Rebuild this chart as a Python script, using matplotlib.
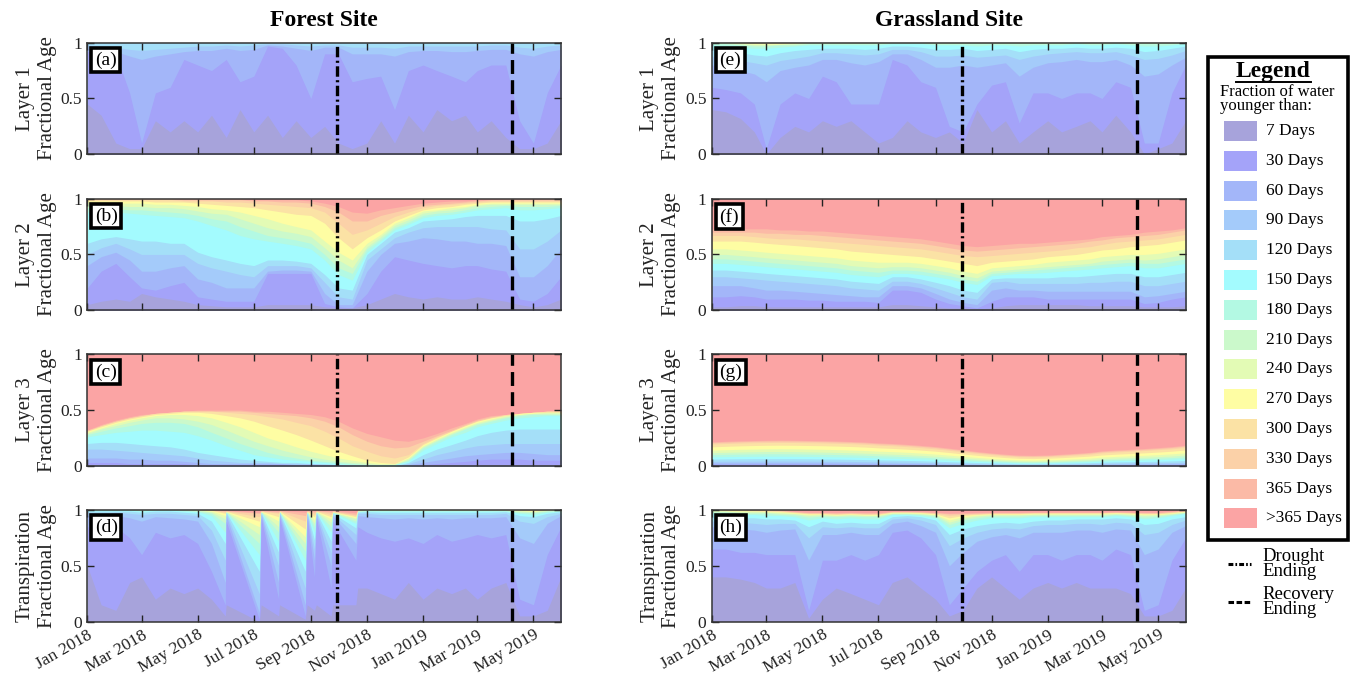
import numpy as np
import pandas as pd
import matplotlib
matplotlib.use("Agg")
import matplotlib.pyplot as plt
from matplotlib.patches import Rectangle
from matplotlib.lines import Line2D

plt.rcParams['font.family'] = ['Liberation Serif', 'DejaVu Serif']
plt.rcParams['lines.scale_dashes'] = False

# ---------------- DATA ----------------
age_labels = ['7 Days', '30 Days', '60 Days', '90 Days', '120 Days', '150 Days', '180 Days',
              '210 Days', '240 Days', '270 Days', '300 Days', '330 Days', '365 Days', '>365 Days']
age_colors = ['#a7a3db', '#a4a3f9', '#a3b6f9', '#a4cbfa', '#a4dff8', '#a3fbfe', '#b3f9e3',
              '#cbf9cb', '#e3fbb5', '#fefda3', '#fbe2a5', '#fbd1a8', '#fbbaa6', '#fba4a4']

dates_semi = ['2018-01-01', '2018-01-16', '2018-02-01', '2018-02-16', '2018-03-01', '2018-03-16',
              '2018-04-01', '2018-04-16', '2018-05-01', '2018-05-16', '2018-06-01', '2018-06-16',
              '2018-07-01', '2018-07-16', '2018-08-01', '2018-08-16', '2018-09-01', '2018-09-16',
              '2018-10-01', '2018-10-16', '2018-11-01', '2018-11-16', '2018-12-01', '2018-12-16',
              '2019-01-01', '2019-01-16', '2019-02-01', '2019-02-16', '2019-03-01', '2019-03-16',
              '2019-04-01', '2019-04-16', '2019-05-01', '2019-05-16', '2019-05-31']

dates_forest_tr = ['2018-01-01', '2018-01-16', '2018-02-01', '2018-02-16', '2018-03-01', '2018-03-16',
                   '2018-04-01', '2018-04-16', '2018-05-01', '2018-05-16', '2018-05-31', '2018-06-01',
                   '2018-07-07', '2018-07-09', '2018-07-28', '2018-07-29', '2018-08-26', '2018-08-28',
                   '2018-09-05', '2018-09-07', '2018-09-23', '2018-09-25', '2018-10-20', '2018-10-22',
                   '2018-11-01', '2018-11-16', '2018-12-01', '2018-12-16', '2019-01-01', '2019-01-16',
                   '2019-02-01', '2019-02-16', '2019-03-01', '2019-03-16', '2019-04-01', '2019-04-16',
                   '2019-05-01', '2019-05-16', '2019-05-31']

# cumulative fraction younger than 7,30,60,...,365 days (one row per threshold)
forest_layer1 = [
    [.45,.35,.10,.05,.05,.30,.20,.30,.20,.35,.15,.40,.20,.35,.15,.30,.15,.25,.10,.05,.10,.30,.10,.35,.20,.40,.30,.35,.20,.30,.15,.05,.05,.10,.30],
    [.92,.92,.90,.55,.10,.55,.60,.85,.80,.75,.85,.65,.70,.97,.95,.80,.50,.90,.90,.65,.68,.70,.40,.75,.80,.75,.70,.65,.75,.80,.80,.30,.10,.55,.80],
    [.95,.93,.92,.88,.85,.88,.90,.92,.93,.93,.95,.93,.94,.98,.97,.95,.93,.96,.96,.90,.90,.90,.88,.92,.93,.93,.92,.92,.93,.94,.94,.90,.88,.92,.94],
    [.98,.97,.96,.94,.93,.94,.95,.96,.97,.97,.98,.97,.98,.99,.99,.98,.97,.98,.98,.96,.96,.96,.95,.97,.97,.97,.97,.97,.97,.98,.98,.96,.95,.97,.98],
    [1,1,1,1,1,1,1,1,1,1,1,1,1,1,1,1,1,1,1,1,1,1,1,1,1,1,1,1,1,1,1,1,1,1,1],
    [1,1,1,1,1,1,1,1,1,1,1,1,1,1,1,1,1,1,1,1,1,1,1,1,1,1,1,1,1,1,1,1,1,1,1],
    [1,1,1,1,1,1,1,1,1,1,1,1,1,1,1,1,1,1,1,1,1,1,1,1,1,1,1,1,1,1,1,1,1,1,1],
    [1,1,1,1,1,1,1,1,1,1,1,1,1,1,1,1,1,1,1,1,1,1,1,1,1,1,1,1,1,1,1,1,1,1,1],
    [1,1,1,1,1,1,1,1,1,1,1,1,1,1,1,1,1,1,1,1,1,1,1,1,1,1,1,1,1,1,1,1,1,1,1],
    [1,1,1,1,1,1,1,1,1,1,1,1,1,1,1,1,1,1,1,1,1,1,1,1,1,1,1,1,1,1,1,1,1,1,1],
    [1,1,1,1,1,1,1,1,1,1,1,1,1,1,1,1,1,1,1,1,1,1,1,1,1,1,1,1,1,1,1,1,1,1,1],
    [1,1,1,1,1,1,1,1,1,1,1,1,1,1,1,1,1,1,1,1,1,1,1,1,1,1,1,1,1,1,1,1,1,1,1],
    [1,1,1,1,1,1,1,1,1,1,1,1,1,1,1,1,1,1,1,1,1,1,1,1,1,1,1,1,1,1,1,1,1,1,1],
]

forest_layer2 = [
    [.05,.08,.10,.08,.15,.12,.10,.08,.05,.04,.03,.03,.03,.05,.05,.05,.05,.03,.02,.02,.05,.10,.15,.12,.10,.12,.10,.10,.12,.10,.08,.05,.03,.05,.10],
    [.20,.35,.42,.30,.20,.18,.22,.25,.12,.10,.08,.08,.08,.33,.33,.33,.33,.06,.03,.02,.15,.35,.48,.45,.42,.40,.38,.40,.40,.37,.35,.10,.08,.15,.30],
    [.40,.48,.52,.45,.35,.35,.38,.40,.28,.25,.20,.20,.20,.35,.36,.36,.35,.15,.05,.05,.35,.50,.60,.62,.65,.64,.62,.62,.60,.60,.58,.30,.30,.40,.55],
    [.50,.56,.60,.55,.50,.50,.50,.50,.42,.38,.35,.32,.30,.40,.40,.40,.38,.25,.12,.10,.45,.55,.65,.70,.74,.75,.75,.75,.75,.73,.72,.55,.55,.62,.72],
    [.60,.64,.66,.64,.62,.62,.60,.60,.52,.48,.45,.42,.40,.45,.45,.44,.42,.32,.20,.18,.50,.60,.70,.74,.80,.81,.82,.84,.85,.85,.85,.80,.80,.82,.85],
    [.88,.88,.88,.87,.86,.85,.84,.83,.80,.76,.72,.67,.64,.62,.60,.58,.55,.45,.32,.27,.52,.62,.72,.77,.83,.85,.86,.88,.90,.91,.92,.90,.90,.91,.92],
    [.92,.92,.91,.90,.90,.89,.88,.87,.85,.82,.80,.75,.71,.67,.65,.63,.60,.50,.38,.33,.55,.64,.74,.79,.85,.87,.88,.90,.92,.93,.94,.93,.93,.93,.94],
    [.95,.94,.94,.93,.93,.92,.92,.91,.89,.87,.86,.82,.78,.74,.71,.69,.66,.56,.45,.38,.57,.66,.76,.81,.87,.89,.90,.92,.94,.95,.95,.95,.95,.95,.95],
    [.97,.96,.96,.96,.96,.95,.95,.94,.93,.91,.90,.88,.85,.82,.78,.75,.72,.62,.52,.45,.60,.68,.78,.83,.89,.90,.92,.93,.95,.96,.96,.96,.96,.96,.96],
    [.98,.98,.98,.98,.98,.97,.97,.97,.96,.95,.94,.93,.92,.90,.88,.86,.85,.78,.65,.55,.65,.72,.80,.85,.90,.92,.93,.95,.96,.97,.97,.97,.97,.97,.97],
    [.99,.99,.99,.99,.99,.99,.99,.98,.98,.98,.97,.97,.96,.95,.94,.93,.92,.88,.78,.68,.72,.78,.84,.88,.92,.94,.95,.96,.97,.98,.98,.98,.98,.98,.98],
    [1,1,1,1,1,1,1,.99,.99,.99,.99,.99,.98,.98,.97,.97,.96,.93,.88,.80,.80,.85,.88,.91,.94,.95,.96,.97,.98,.99,.99,.99,.99,.99,.99],
    [1,1,1,1,1,1,1,1,1,1,1,1,.99,.99,.99,.99,.98,.96,.93,.88,.87,.90,.92,.94,.96,.97,.98,.98,.99,.99,1,1,1,1,1],
]

forest_layer3 = [
    [.01,.01,.01,.01,.01,.01,.01,.01,.01,0,0,0,0,0,0,0,0,0,0,0,0,0,0,0,.005,.01,.01,.01,.01,.01,.01,.01,.01,.01,.01],
    [.03,.03,.03,.02,.02,.02,.02,.02,.01,.01,.01,.01,.01,.01,.01,.01,.01,.01,.01,0,0,0,0,0,.01,.02,.03,.04,.05,.06,.06,.06,.05,.05,.05],
    [.07,.07,.07,.06,.06,.05,.05,.04,.03,.02,.02,.02,.02,.02,.02,.01,.01,.01,.01,0,0,0,0,.01,.03,.05,.07,.09,.10,.11,.12,.12,.11,.10,.10],
    [.15,.15,.14,.13,.12,.11,.10,.09,.07,.05,.04,.03,.03,.03,.02,.02,.02,.01,.01,.01,0,0,0,.02,.06,.10,.13,.16,.18,.19,.20,.20,.20,.20,.20],
    [.20,.21,.21,.20,.19,.18,.17,.15,.12,.10,.08,.06,.05,.04,.03,.03,.02,.02,.01,.01,.01,0,0,.03,.10,.15,.19,.23,.27,.30,.32,.33,.33,.33,.33],
    [.26,.28,.30,.31,.32,.32,.31,.30,.27,.23,.18,.14,.10,.08,.06,.05,.04,.03,.02,.01,.01,.01,.01,.04,.14,.20,.26,.30,.35,.38,.41,.43,.44,.45,.45],
    [.28,.31,.34,.36,.38,.39,.39,.38,.35,.30,.25,.20,.16,.12,.09,.07,.05,.04,.03,.02,.01,.01,.01,.05,.16,.22,.28,.33,.37,.40,.43,.45,.46,.46,.46],
    [.29,.33,.36,.39,.41,.43,.43,.42,.40,.37,.32,.27,.22,.18,.14,.11,.08,.06,.04,.03,.02,.01,.01,.06,.17,.23,.29,.34,.38,.41,.44,.46,.47,.47,.47],
    [.30,.34,.38,.41,.43,.45,.46,.46,.45,.43,.39,.35,.30,.25,.21,.17,.13,.10,.07,.05,.03,.02,.02,.07,.18,.24,.30,.35,.39,.42,.45,.46,.47,.48,.48],
    [.31,.35,.39,.42,.44,.46,.47,.48,.48,.47,.45,.43,.40,.36,.32,.28,.23,.18,.13,.09,.05,.03,.02,.08,.19,.25,.31,.36,.40,.43,.45,.47,.48,.48,.48],
    [.31,.36,.40,.43,.45,.47,.48,.49,.49,.49,.48,.47,.46,.44,.42,.39,.36,.31,.25,.18,.13,.09,.07,.10,.20,.26,.31,.36,.40,.43,.46,.47,.48,.49,.49],
    [.32,.36,.40,.43,.45,.47,.48,.49,.49,.49,.49,.49,.48,.47,.46,.45,.43,.40,.35,.28,.22,.18,.16,.17,.22,.27,.32,.37,.41,.44,.46,.47,.48,.49,.49],
    [.32,.37,.41,.44,.46,.47,.48,.49,.50,.50,.50,.50,.49,.49,.48,.47,.46,.44,.40,.34,.29,.26,.23,.22,.25,.29,.34,.38,.42,.45,.46,.47,.48,.49,.50],
]

forest_transp = [
    [.50,.15,.10,.35,.40,.20,.30,.25,.30,.20,.05,.15,.00,.15,.05,.15,.02,.15,.10,.15,.05,.15,.15,.30,.30,.25,.20,.35,.20,.30,.25,.30,.20,.30,.35,.05,.05,.10,.40],
    [.85,.82,.85,.75,.60,.80,.75,.78,.70,.45,.15,.90,.02,.93,.20,.93,.05,.93,.40,.93,.30,.90,.55,.85,.80,.75,.72,.75,.70,.78,.72,.75,.78,.75,.78,.20,.15,.60,.85],
    [.95,.94,.95,.93,.90,.94,.93,.92,.90,.70,.35,.95,.08,.96,.35,.96,.15,.96,.55,.96,.50,.95,.70,.95,.94,.93,.92,.93,.92,.93,.92,.93,.93,.93,.94,.75,.70,.88,.95],
    [.98,.97,.98,.97,.96,.97,.97,.96,.95,.82,.55,.97,.25,.97,.50,.97,.30,.97,.65,.97,.62,.96,.78,.97,.97,.96,.96,.96,.96,.96,.96,.96,.96,.96,.97,.90,.88,.94,.97],
    [.99,.99,.99,.99,.98,.99,.99,.98,.97,.90,.70,.98,.45,.98,.62,.98,.45,.98,.73,.98,.72,.97,.84,.98,.985,.98,.98,.98,.98,.98,.98,.98,.98,.98,.985,.95,.94,.97,.985],
    [1,1,1,1,.99,1,1,.99,.985,.95,.80,.98,.60,.98,.72,.98,.55,.98,.80,.98,.80,.975,.88,.985,.99,.99,.99,.99,.99,.99,.99,.99,.99,.99,.99,.97,.96,.98,.99],
    [1,1,1,1,1,1,1,1,.99,.97,.88,.982,.70,.982,.80,.982,.63,.982,.85,.982,.85,.978,.90,.99,.995,.995,.995,.995,.995,.995,.995,.995,.995,.995,.995,.98,.975,.99,.995],
    [1,1,1,1,1,1,1,1,1,.98,.92,.984,.78,.984,.85,.984,.70,.984,.88,.984,.89,.98,.92,.99,1,1,1,1,1,1,1,1,1,1,1,.99,.985,.995,1],
    [1,1,1,1,1,1,1,1,1,.99,.95,.986,.85,.986,.90,.986,.76,.986,.91,.986,.92,.982,.93,.995,1,1,1,1,1,1,1,1,1,1,1,.995,.99,1,1],
    [1,1,1,1,1,1,1,1,1,.995,.97,.988,.90,.988,.94,.988,.83,.988,.94,.988,.94,.984,.94,.995,1,1,1,1,1,1,1,1,1,1,1,1,.995,1,1],
    [1,1,1,1,1,1,1,1,1,1,.98,.99,.94,.99,.97,.99,.90,.99,.96,.99,.96,.987,.95,1,1,1,1,1,1,1,1,1,1,1,1,1,1,1,1],
    [1,1,1,1,1,1,1,1,1,1,.99,.992,.97,.992,.98,.992,.95,.992,.98,.992,.98,.99,.96,1,1,1,1,1,1,1,1,1,1,1,1,1,1,1,1],
    [1,1,1,1,1,1,1,1,1,1,.995,.995,.98,.995,.99,.995,.98,.995,.99,.995,.99,.995,.975,1,1,1,1,1,1,1,1,1,1,1,1,1,1,1,1],
]

grass_layer1 = [
    [.40,.38,.32,.20,.00,.15,.25,.20,.30,.25,.30,.20,.10,.15,.30,.20,.15,.20,.10,.40,.20,.30,.10,.20,.30,.20,.25,.30,.20,.35,.20,.00,.05,.10,.30],
    [.60,.58,.55,.45,.05,.45,.55,.50,.70,.65,.45,.45,.45,.85,.80,.65,.60,.25,.20,.45,.62,.65,.28,.55,.55,.50,.55,.55,.50,.65,.60,.10,.10,.55,.80],
    [.80,.78,.75,.72,.65,.75,.78,.80,.85,.85,.82,.80,.83,.90,.90,.85,.78,.78,.80,.78,.80,.82,.70,.78,.82,.83,.85,.83,.83,.85,.80,.70,.72,.80,.87],
    [.88,.86,.84,.82,.80,.84,.86,.88,.91,.91,.90,.89,.90,.94,.94,.92,.88,.88,.89,.87,.88,.89,.85,.88,.90,.91,.92,.91,.91,.92,.89,.85,.86,.89,.93],
    [.94,.93,.91,.89,.88,.91,.93,.94,.95,.95,.95,.94,.95,.97,.97,.96,.94,.94,.95,.93,.94,.95,.92,.94,.95,.95,.96,.95,.95,.96,.95,.92,.93,.95,.97],
    [.98,.97,.96,.95,.95,.96,.97,.98,.98,.98,.98,.98,.98,.99,.99,.99,.98,.98,.98,.97,.98,.98,.97,.98,.98,.98,.99,.98,.98,.99,.98,.97,.97,.98,.99],
    [.99,.99,.98,.97,.97,.98,.98,.99,.99,.99,.99,.99,.99,1,1,1,.99,.99,.99,.99,.99,.99,.99,.99,.99,.99,1,.99,.99,1,.99,.99,.99,.99,1],
    [1,1,.99,.98,.98,.985,.99,1,1,1,1,1,1,1,1,1,1,1,1,1,1,1,1,1,1,1,1,1,1,1,1,1,1,1,1],
    [1,1,.995,.99,.99,.99,.995,1,1,1,1,1,1,1,1,1,1,1,1,1,1,1,1,1,1,1,1,1,1,1,1,1,1,1,1],
    [1,1,1,.995,.995,.995,1,1,1,1,1,1,1,1,1,1,1,1,1,1,1,1,1,1,1,1,1,1,1,1,1,1,1,1,1],
    [1,1,1,1,1,1,1,1,1,1,1,1,1,1,1,1,1,1,1,1,1,1,1,1,1,1,1,1,1,1,1,1,1,1,1],
    [1,1,1,1,1,1,1,1,1,1,1,1,1,1,1,1,1,1,1,1,1,1,1,1,1,1,1,1,1,1,1,1,1,1,1],
    [1,1,1,1,1,1,1,1,1,1,1,1,1,1,1,1,1,1,1,1,1,1,1,1,1,1,1,1,1,1,1,1,1,1,1],
]

grass_layer2 = [
    [.03,.03,.04,.04,.03,.03,.03,.03,.03,.03,.03,.03,.03,.05,.05,.04,.03,.02,.02,.01,.02,.04,.05,.05,.05,.05,.05,.04,.04,.04,.04,.03,.03,.03,.04],
    [.12,.12,.13,.12,.10,.10,.10,.09,.09,.08,.08,.08,.07,.18,.18,.16,.10,.06,.04,.02,.08,.12,.12,.12,.10,.10,.10,.10,.10,.10,.10,.06,.07,.10,.12],
    [.22,.22,.22,.20,.18,.18,.17,.16,.15,.14,.13,.12,.12,.22,.22,.20,.15,.10,.07,.05,.18,.20,.18,.18,.17,.17,.17,.17,.17,.17,.17,.12,.13,.15,.17],
    [.30,.30,.29,.28,.27,.26,.25,.24,.23,.22,.20,.19,.18,.26,.26,.24,.20,.16,.12,.10,.25,.26,.24,.24,.24,.24,.24,.25,.25,.26,.26,.22,.22,.24,.26],
    [.36,.36,.35,.34,.33,.32,.31,.30,.29,.28,.26,.25,.24,.30,.30,.28,.25,.22,.18,.16,.28,.29,.29,.29,.29,.30,.30,.31,.32,.33,.33,.30,.30,.32,.34],
    [.42,.42,.41,.40,.39,.38,.37,.36,.35,.34,.32,.31,.30,.33,.33,.32,.30,.28,.25,.23,.31,.32,.33,.33,.34,.35,.36,.37,.38,.39,.40,.38,.38,.40,.42],
    [.46,.46,.45,.44,.43,.42,.41,.40,.39,.38,.36,.35,.34,.36,.36,.35,.33,.31,.28,.26,.33,.34,.35,.36,.37,.38,.39,.40,.41,.42,.43,.42,.42,.44,.46],
    [.50,.50,.49,.48,.47,.46,.45,.44,.43,.42,.40,.39,.38,.39,.39,.38,.36,.34,.31,.29,.35,.36,.37,.38,.39,.40,.41,.42,.44,.45,.46,.45,.46,.48,.50],
    [.55,.55,.54,.53,.52,.51,.50,.49,.48,.47,.45,.44,.43,.43,.43,.42,.40,.38,.35,.33,.38,.39,.40,.41,.43,.44,.45,.46,.48,.49,.50,.50,.51,.53,.55],
    [.62,.62,.62,.61,.60,.59,.58,.57,.56,.55,.53,.52,.51,.50,.49,.48,.46,.44,.42,.40,.43,.44,.45,.46,.48,.49,.50,.52,.54,.55,.57,.58,.59,.61,.63],
    [.67,.67,.67,.66,.65,.64,.64,.63,.62,.61,.60,.59,.58,.57,.56,.55,.53,.51,.49,.48,.49,.50,.51,.52,.53,.54,.56,.57,.59,.61,.62,.63,.64,.66,.68],
    [.70,.70,.70,.70,.69,.69,.68,.68,.67,.66,.65,.64,.63,.62,.61,.60,.58,.56,.54,.53,.54,.55,.56,.57,.58,.59,.60,.62,.63,.65,.66,.67,.68,.70,.72],
    [.73,.73,.73,.73,.73,.72,.72,.71,.71,.70,.69,.68,.67,.66,.65,.64,.62,.60,.58,.57,.58,.59,.60,.60,.61,.62,.63,.64,.66,.67,.68,.70,.71,.72,.74],
]

grass_layer3 = [
    [.005,.005,.005,.005,.005,.005,.005,.005,.005,.005,.005,.005,.004,.004,.004,.004,.003,.003,.003,.002,.002,.002,.002,.002,.002,.002,.002,.002,.003,.003,.003,.003,.003,.004,.004],
    [.015,.015,.015,.016,.016,.016,.016,.015,.015,.015,.014,.014,.013,.012,.012,.011,.010,.009,.008,.007,.006,.005,.005,.005,.005,.006,.006,.007,.008,.008,.009,.009,.010,.011,.012],
    [.025,.026,.026,.027,.027,.027,.027,.026,.026,.025,.024,.023,.022,.021,.020,.019,.017,.015,.013,.012,.010,.009,.008,.008,.009,.010,.011,.012,.013,.014,.015,.016,.017,.018,.020],
    [.040,.041,.042,.042,.043,.043,.042,.042,.041,.040,.039,.037,.035,.034,.032,.030,.027,.024,.022,.019,.017,.015,.013,.013,.014,.015,.017,.019,.021,.023,.025,.026,.027,.029,.032],
    [.060,.062,.063,.064,.064,.064,.064,.063,.061,.060,.058,.056,.053,.051,.048,.045,.041,.037,.033,.029,.026,.023,.020,.019,.021,.023,.025,.028,.032,.035,.037,.039,.041,.044,.048],
    [.080,.082,.084,.085,.086,.086,.085,.084,.082,.080,.078,.075,.071,.068,.065,.061,.056,.050,.045,.040,.035,.031,.027,.026,.028,.030,.034,.037,.042,.046,.049,.052,.055,.059,.064],
    [.100,.103,.105,.107,.108,.108,.107,.105,.103,.101,.098,.095,.090,.087,.082,.077,.071,.064,.057,.050,.044,.039,.034,.033,.035,.038,.042,.046,.053,.057,.061,.064,.068,.073,.080],
    [.118,.121,.124,.126,.128,.128,.127,.125,.123,.120,.117,.113,.108,.104,.099,.093,.086,.077,.069,.061,.054,.047,.042,.040,.042,.046,.051,.056,.064,.069,.073,.077,.082,.088,.096],
    [.140,.144,.148,.150,.152,.153,.152,.150,.148,.145,.141,.137,.131,.127,.121,.114,.105,.095,.085,.075,.066,.058,.052,.050,.053,.057,.063,.069,.078,.084,.089,.094,.100,.107,.116],
    [.170,.175,.179,.182,.184,.185,.184,.182,.180,.177,.173,.168,.161,.156,.149,.141,.131,.119,.106,.094,.083,.074,.067,.065,.068,.073,.080,.087,.097,.104,.110,.116,.123,.131,.142],
    [.195,.200,.204,.207,.209,.210,.209,.207,.205,.202,.198,.193,.185,.180,.172,.163,.152,.139,.125,.111,.099,.089,.081,.079,.082,.088,.096,.104,.116,.124,.130,.137,.145,.153,.165],
    [.207,.212,.216,.219,.221,.222,.221,.219,.217,.214,.210,.205,.197,.192,.184,.175,.164,.150,.136,.121,.108,.097,.089,.087,.090,.097,.105,.114,.126,.134,.140,.147,.155,.164,.177],
    [.215,.220,.224,.227,.229,.230,.229,.227,.225,.222,.218,.213,.205,.200,.192,.183,.172,.158,.143,.128,.115,.104,.096,.094,.097,.104,.112,.121,.134,.142,.148,.155,.163,.172,.185],
]

grass_transp = [
    [.40,.40,.38,.35,.30,.30,.35,.03,.20,.30,.25,.20,.15,.35,.40,.30,.20,.05,.10,.30,.40,.30,.20,.30,.35,.30,.35,.30,.30,.30,.25,.05,.05,.10,.30],
    [.65,.65,.62,.62,.60,.60,.60,.10,.55,.55,.60,.55,.60,.80,.82,.75,.60,.15,.30,.45,.55,.60,.45,.60,.60,.55,.60,.60,.55,.65,.60,.10,.15,.55,.75],
    [.85,.85,.83,.82,.80,.82,.83,.55,.78,.78,.80,.78,.78,.88,.90,.86,.80,.50,.62,.72,.76,.78,.75,.80,.80,.80,.82,.82,.80,.83,.82,.60,.65,.80,.86],
    [.90,.90,.89,.88,.87,.88,.88,.75,.85,.84,.85,.84,.84,.92,.93,.91,.87,.68,.75,.80,.83,.84,.83,.86,.87,.87,.88,.88,.87,.89,.88,.78,.80,.87,.91],
    [.94,.94,.93,.93,.92,.92,.91,.85,.90,.88,.89,.88,.88,.94,.95,.94,.91,.78,.83,.86,.88,.89,.88,.90,.91,.91,.92,.92,.92,.93,.92,.87,.88,.92,.94],
    [.97,.97,.96,.96,.95,.95,.94,.91,.93,.92,.93,.92,.92,.96,.96,.95,.93,.84,.88,.91,.93,.93,.93,.94,.94,.94,.94,.94,.94,.95,.94,.92,.93,.95,.97],
    [.98,.98,.97,.97,.97,.96,.955,.935,.945,.94,.945,.94,.94,.965,.965,.96,.945,.87,.91,.93,.945,.945,.945,.95,.95,.95,.95,.95,.95,.96,.95,.935,.945,.96,.975],
    [.99,.99,.98,.98,.98,.97,.965,.95,.955,.95,.955,.95,.95,.97,.97,.965,.955,.89,.925,.945,.955,.955,.955,.96,.96,.96,.96,.96,.96,.965,.96,.95,.955,.965,.98],
    [.995,.99,.99,.99,.985,.98,.97,.96,.96,.955,.96,.955,.955,.975,.975,.97,.96,.91,.94,.955,.96,.96,.96,.965,.965,.965,.965,.965,.965,.97,.965,.96,.96,.97,.985],
    [1,.995,.995,.99,.99,.985,.975,.965,.965,.96,.965,.96,.96,.978,.978,.975,.965,.93,.95,.96,.965,.965,.965,.97,.97,.97,.97,.97,.97,.975,.97,.965,.965,.975,.99],
    [1,1,1,.995,.995,.99,.98,.97,.97,.965,.97,.965,.965,.982,.982,.978,.97,.95,.96,.965,.97,.97,.97,.975,.975,.975,.975,.975,.975,.978,.975,.97,.97,.98,.99],
    [1,1,1,1,1,.995,.983,.975,.975,.97,.975,.97,.97,.985,.985,.982,.975,.965,.967,.97,.975,.975,.975,.978,.978,.978,.978,.978,.978,.98,.978,.975,.975,.985,.995],
    [1,1,1,1,1,1,.987,.98,.98,.978,.98,.978,.978,.988,.988,.986,.98,.972,.975,.978,.98,.98,.98,.982,.982,.982,.982,.982,.982,.985,.982,.98,.98,.99,1],
]

tick_dates = ['2018-01-01', '2018-03-01', '2018-05-01', '2018-07-01', '2018-09-01', '2018-11-01',
              '2019-01-01', '2019-03-01', '2019-05-01']
tick_labels = ['Jan 2018', 'Mar 2018', 'May 2018', 'Jul 2018', 'Sep 2018', 'Nov 2018',
               'Jan 2019', 'Mar 2019', 'May 2019']
x_start, x_end = '2018-01-01', '2019-05-31'
drought_end = '2018-09-30'
recovery_end = '2019-04-08'

site_titles = ['Forest Site', 'Grassland Site']
row_labels = ['Layer 1\nFractional Age', 'Layer 2\nFractional Age', 'Layer 3\nFractional Age',
              'Transpiration\nFractional Age']
panel_letters = [['(a)', '(b)', '(c)', '(d)'], ['(e)', '(f)', '(g)', '(h)']]

# ---------------- FIGURE ----------------
W, H = 1352, 678
fig = plt.figure(figsize=(W / 100, H / 100), dpi=100)

col_left = [87.3, 712.0]
ax_w = 473.7
row_top = [42.7, 198.7, 354.3, 510.0]
ax_h = 111.5

panel_data = [
    [(dates_semi, forest_layer1), (dates_semi, forest_layer2), (dates_semi, forest_layer3),
     (dates_forest_tr, forest_transp)],
    [(dates_semi, grass_layer1), (dates_semi, grass_layer2), (dates_semi, grass_layer3),
     (dates_semi, grass_transp)],
]

frame_col = '#333333'
for c in range(2):
    for r in range(4):
        ax = fig.add_axes([col_left[c] / W, 1 - (row_top[r] + ax_h) / H, ax_w / W, ax_h / H])
        dts, rows = panel_data[c][r]
        x = pd.to_datetime(dts)
        n = len(x)
        stack = np.vstack([np.zeros(n)] + [np.asarray(v, float) for v in rows] + [np.ones(n)])
        stack = np.maximum.accumulate(stack, axis=0)
        for k in range(13, -1, -1):
            ax.fill_between(x, 0, stack[k + 1], color=age_colors[k], lw=0, zorder=1)
        ax.axvline(pd.Timestamp(drought_end), color='black', lw=2.4,
                   dashes=(7.5, 2.5, 1.5, 2.5), zorder=3)
        ax.axvline(pd.Timestamp(recovery_end), color='black', lw=2.4,
                   dashes=(10, 4.5), zorder=3)
        ax.set_xlim(pd.Timestamp(x_start), pd.Timestamp(x_end))
        ax.set_ylim(0, 1)
        ax.set_yticks([0, 0.5, 1])
        ax.set_yticklabels(['0', '0.5', '1'])
        ax.set_xticks(pd.to_datetime(tick_dates))
        if r == 3:
            ax.set_xticklabels(tick_labels, rotation=30, ha='right', rotation_mode='anchor')
        else:
            ax.set_xticklabels([])
        ax.tick_params(direction='in', length=5, width=1.0, top=True, right=True,
                       labelsize=12.5, colors='#222222', pad=4)
        for s in ax.spines.values():
            s.set_color(frame_col)
            s.set_linewidth(1.1)
            s.set_zorder(5)
        ax.set_ylabel(row_labels[r], fontsize=15, linespacing=1.2, color='#222222')
        ax.yaxis.set_label_coords(-0.065, 0.5)
        ax.text(0.016, 0.92, panel_letters[c][r], transform=ax.transAxes, ha='left', va='top',
                fontsize=14, zorder=6,
                bbox=dict(boxstyle='square,pad=0.18', fc='white', ec='black', lw=2.6))
        if r == 0:
            fig.text((col_left[c] + ax_w / 2) / W, 1 - 20 / H, site_titles[c], ha='center',
                     va='center', fontsize=17, fontweight='bold')

# ---------------- LEGEND (pixel coordinates) ----------------
lg = fig.add_axes([0, 0, 1, 1], zorder=10)
lg.set_xlim(0, W)
lg.set_ylim(H, 0)
lg.axis('off')
lg.add_patch(Rectangle((1207.5, 56.5), 140.5, 483.5, fill=False, ec='black', lw=2.6))
lg.text(1273.5, 72, 'Legend', ha='center', va='center', fontsize=17, fontweight='bold')
lg.add_line(Line2D([1236, 1311], [82, 82], color='black', lw=1.4))
lg.text(1220.5, 92, 'Fraction of water', ha='left', va='center', fontsize=12)
lg.text(1219.5, 106, 'younger than:', ha='left', va='center', fontsize=12)
for k, (lab, colr) in enumerate(zip(age_labels, age_colors)):
    cy = 131 + 29.8 * k
    lg.add_patch(Rectangle((1224, cy - 10), 33, 20, fc=colr, ec='none'))
    lg.text(1266.5, cy, lab, ha='left', va='center', fontsize=12.5)

lg.add_line(Line2D([1228, 1251], [564, 564], color='black', lw=2.2, dashes=(3.5, 1.5, 1.2, 1.5)))
lg.text(1262, 564, 'Drought\nEnding', ha='left', va='center', fontsize=13.5, linespacing=0.85)
lg.add_line(Line2D([1228, 1251], [602, 602], color='black', lw=2.2, dashes=(4, 1.8)))
lg.text(1262, 602, 'Recovery\nEnding', ha='left', va='center', fontsize=13.5, linespacing=0.85)

fig.savefig('out.png', dpi=100)
